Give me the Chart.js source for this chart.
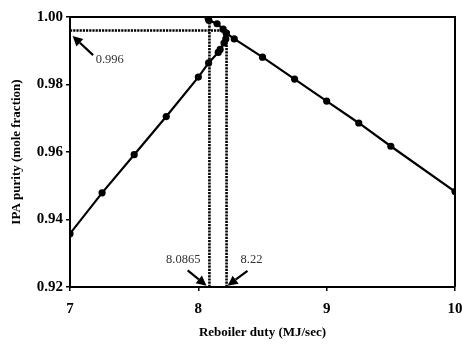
<!DOCTYPE html>
<html>
<head>
<meta charset="utf-8">
<script src="https://cdn.jsdelivr.net/npm/chart.js@4.4.1/dist/chart.umd.min.js"></script>
<style>
  html, body { margin: 0; padding: 0; background: #fff; overflow: hidden; }
  #wrap { width: 462px; height: 345px; overflow: hidden; }
  canvas { display: block; }
</style>
</head>
<body>
<div id="wrap"><canvas id="c" width="475" height="345"></canvas></div>
<script>
// Low-duty branch rising to the turning point, then folding back along the top
const foldDuty   = [7.00, 7.25, 7.50, 7.75, 8.00, 8.08, 8.155, 8.17, 8.20, 8.214, 8.218, 8.193, 8.146, 8.083, 8.077];
const foldPurity = [0.9358, 0.9479, 0.9592, 0.9705, 0.9822, 0.9864, 0.9895, 0.9904, 0.9923, 0.9935, 0.9952, 0.9964, 0.9980, 0.9990, 0.9995];

// High-duty branch falling from the turning point
const highDuty   = [8.218, 8.28, 8.50, 8.75, 9.00, 9.25, 9.50, 10.00];
const highPurity = [0.9952, 0.9935, 0.9881, 0.9816, 0.9751, 0.9686, 0.9617, 0.9483];

// Reference values marked with dotted guide lines
const purityMark = 0.996;
const dutyMarks  = [8.0865, 8.22];
const dutyMarkTop = [0.9990, 0.996];

// Axis ranges and ticks
const xMin = 7, xMax = 10, xStep = 1;
const yMin = 0.92, yMax = 1.00, yStep = 0.02;

// Callouts: text, anchor of the text, arrow tail and arrow head (data units)
const callouts = [
  { text: '0.996',  tx: 7.20,  ty: 0.9872, align: 'left',   from: [7.18, 0.9887],  to: [7.02, 0.9944] },
  { text: '8.0865', tx: 7.882, ty: 0.9280, align: 'center', from: [7.917, 0.9249], to: [8.064, 0.9204] },
  { text: '8.22',   tx: 8.414, ty: 0.9280, align: 'center', from: [8.383, 0.9248], to: [8.228, 0.9204] }
];

const toXY = (xs, ys) => xs.map((x, i) => ({ x: x, y: ys[i] }));

const guideStyle = {
  borderColor: '#000', borderWidth: 2.6, borderDash: [2.2, 1],
  pointRadius: 0, showLine: true, fill: false
};

const datasets = [
  Object.assign({ data: [{ x: xMin, y: purityMark }, { x: dutyMarks[1], y: purityMark }] }, guideStyle),
  Object.assign({ data: [{ x: dutyMarks[0], y: yMin }, { x: dutyMarks[0], y: dutyMarkTop[0] }] }, guideStyle),
  Object.assign({ data: [{ x: dutyMarks[1], y: yMin }, { x: dutyMarks[1], y: dutyMarkTop[1] }] }, guideStyle),
  {
    data: toXY(foldDuty, foldPurity), showLine: true, borderColor: '#000', borderWidth: 2.2,
    pointRadius: 3.6, pointBackgroundColor: '#000', pointBorderWidth: 0, fill: false, tension: 0
  },
  {
    data: toXY(highDuty, highPurity), showLine: true, borderColor: '#000', borderWidth: 2.2,
    pointRadius: 3.6, pointBackgroundColor: '#000', pointBorderWidth: 0, fill: false, tension: 0
  }
];

// Frame around the plot plus the arrow callouts
const decorations = {
  id: 'decorations',
  afterDatasetsDraw(chart) {
    const { ctx, chartArea: a, scales: { x, y } } = chart;
    ctx.save();
    ctx.strokeStyle = '#000';
    ctx.lineWidth = 2;
    ctx.beginPath();
    ctx.moveTo(a.left, a.top);
    ctx.lineTo(a.right, a.top);
    ctx.lineTo(a.right, a.bottom);
    ctx.stroke();

    ctx.font = '12.5px "Liberation Serif", "Times New Roman", serif';
    ctx.textBaseline = 'middle';
    callouts.forEach(c => {
      const x0 = x.getPixelForValue(c.from[0]), y0 = y.getPixelForValue(c.from[1]);
      const x1 = x.getPixelForValue(c.to[0]),   y1 = y.getPixelForValue(c.to[1]);
      const ang = Math.atan2(y1 - y0, x1 - x0);
      const head = 10, wing = 5;
      const bx = x1 - head * Math.cos(ang), by = y1 - head * Math.sin(ang);
      ctx.strokeStyle = '#000';
      ctx.lineWidth = 2.2;
      ctx.beginPath();
      ctx.moveTo(x0, y0);
      ctx.lineTo(bx, by);
      ctx.stroke();
      ctx.fillStyle = '#000';
      ctx.beginPath();
      ctx.moveTo(x1, y1);
      ctx.lineTo(bx + wing * Math.sin(ang), by - wing * Math.cos(ang));
      ctx.lineTo(bx - wing * Math.sin(ang), by + wing * Math.cos(ang));
      ctx.closePath();
      ctx.fill();
      ctx.fillStyle = '#333';
      ctx.textAlign = c.align;
      ctx.fillText(c.text, x.getPixelForValue(c.tx), y.getPixelForValue(c.ty));
    });
    ctx.restore();
  }
};

const tickFont = { family: '"Liberation Serif", "Times New Roman", serif', size: 15, weight: 'bold' };
const titleFont = { family: '"Liberation Serif", "Times New Roman", serif', size: 13, weight: 'bold' };

new Chart(document.getElementById('c'), {
  type: 'scatter',
  data: { datasets: datasets },
  options: {
    responsive: false,
    animation: false,
    events: [],
    layout: { padding: { top: 17, right: 20, left: 0, bottom: 0 } },
    plugins: { legend: { display: false }, tooltip: { enabled: false } },
    scales: {
      x: {
        type: 'linear', min: xMin, max: xMax,
        ticks: { stepSize: xStep, color: '#000', font: tickFont, padding: 9, maxRotation: 0 },
        grid: { drawOnChartArea: false, tickLength: 4, color: '#000', lineWidth: 1.5 },
        border: { display: true, color: '#000', width: 2 },
        title: { display: true, text: 'Reboiler duty (MJ/sec)', color: '#000', font: titleFont, padding: { top: 0, bottom: 5 } },
        afterFit: s => { s.height = 58; }
      },
      y: {
        type: 'linear', min: yMin, max: yMax,
        ticks: { stepSize: yStep, color: '#000', font: tickFont, padding: 3, callback: v => v.toFixed(2) },
        grid: { drawOnChartArea: false, tickLength: 4, color: '#000', lineWidth: 1.5 },
        border: { display: true, color: '#000', width: 2 },
        title: { display: true, text: 'IPA purity (mole fraction)', color: '#000', font: titleFont, padding: { top: 9, bottom: 0 } },
        afterFit: s => { s.width = 70; }
      }
    }
  },
  plugins: [decorations]
});
</script>
</body>
</html>
